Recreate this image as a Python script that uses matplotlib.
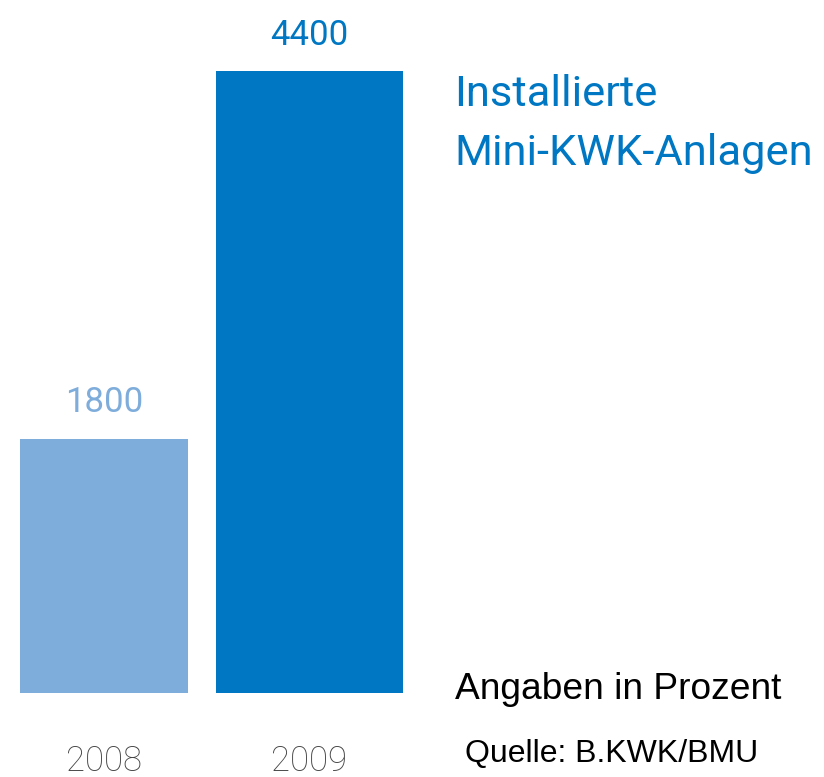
import matplotlib
matplotlib.use("Agg")
import matplotlib.pyplot as plt

years = ["2008", "2009"]
values = [1800, 4400]
value_labels = ["1800", "4400"]
bar_colors = ["#7FADDB", "#0077C2"]
label_colors = ["#7FADDB", "#0077C2"]
title_lines = ["Installierte", "Mini-KWK-Anlagen"]
note = "Angaben in Prozent"
source = "Quelle: B.KWK/BMU"

THIN = ["Roboto", "DejaVu Sans"]
ARIAL = ["Liberation Sans", "DejaVu Sans"]

fig = plt.figure(figsize=(8.24, 7.77), dpi=100)
ax = fig.add_axes([1.25 / 824, 84 / 777, 411 / 824, 622 / 777])
x = [0, 1]
widths = [0.8175, 0.91]
ax.bar(x, values, width=widths, color=bar_colors)
ax.set_xlim(-0.5, 1.5)
ax.set_ylim(0, 4400)
ax.axis("off")

for xi, v, lab, c in zip(x, values, value_labels, label_colors):
    ax.annotate(lab, (xi, v), xytext=(0, 19), textcoords="offset points",
                ha="center", va="baseline", fontsize=25, color=c,
                family=THIN, fontweight="normal", annotation_clip=False)
for xi, y in zip(x, years):
    ax.annotate(y, (xi, 0), xytext=(0, -56), textcoords="offset points",
                ha="center", va="baseline", fontsize=25, color="#444444",
                family=THIN, fontweight="light", annotation_clip=False)

for line, base in zip(title_lines, [106, 165]):
    fig.text(454 / 824, 1 - base / 777, line, ha="left", va="baseline", fontsize=31.3,
             color="#0077C2", family=THIN, fontweight="normal")
fig.text(455 / 824, 1 - 699 / 777, note, ha="left", va="baseline", fontsize=26.7,
         color="black", family=ARIAL)
fig.text(465 / 824, 1 - 762 / 777, source, ha="left", va="baseline", fontsize=23,
         color="black", family=ARIAL)

fig.savefig("out.png", dpi=100)
